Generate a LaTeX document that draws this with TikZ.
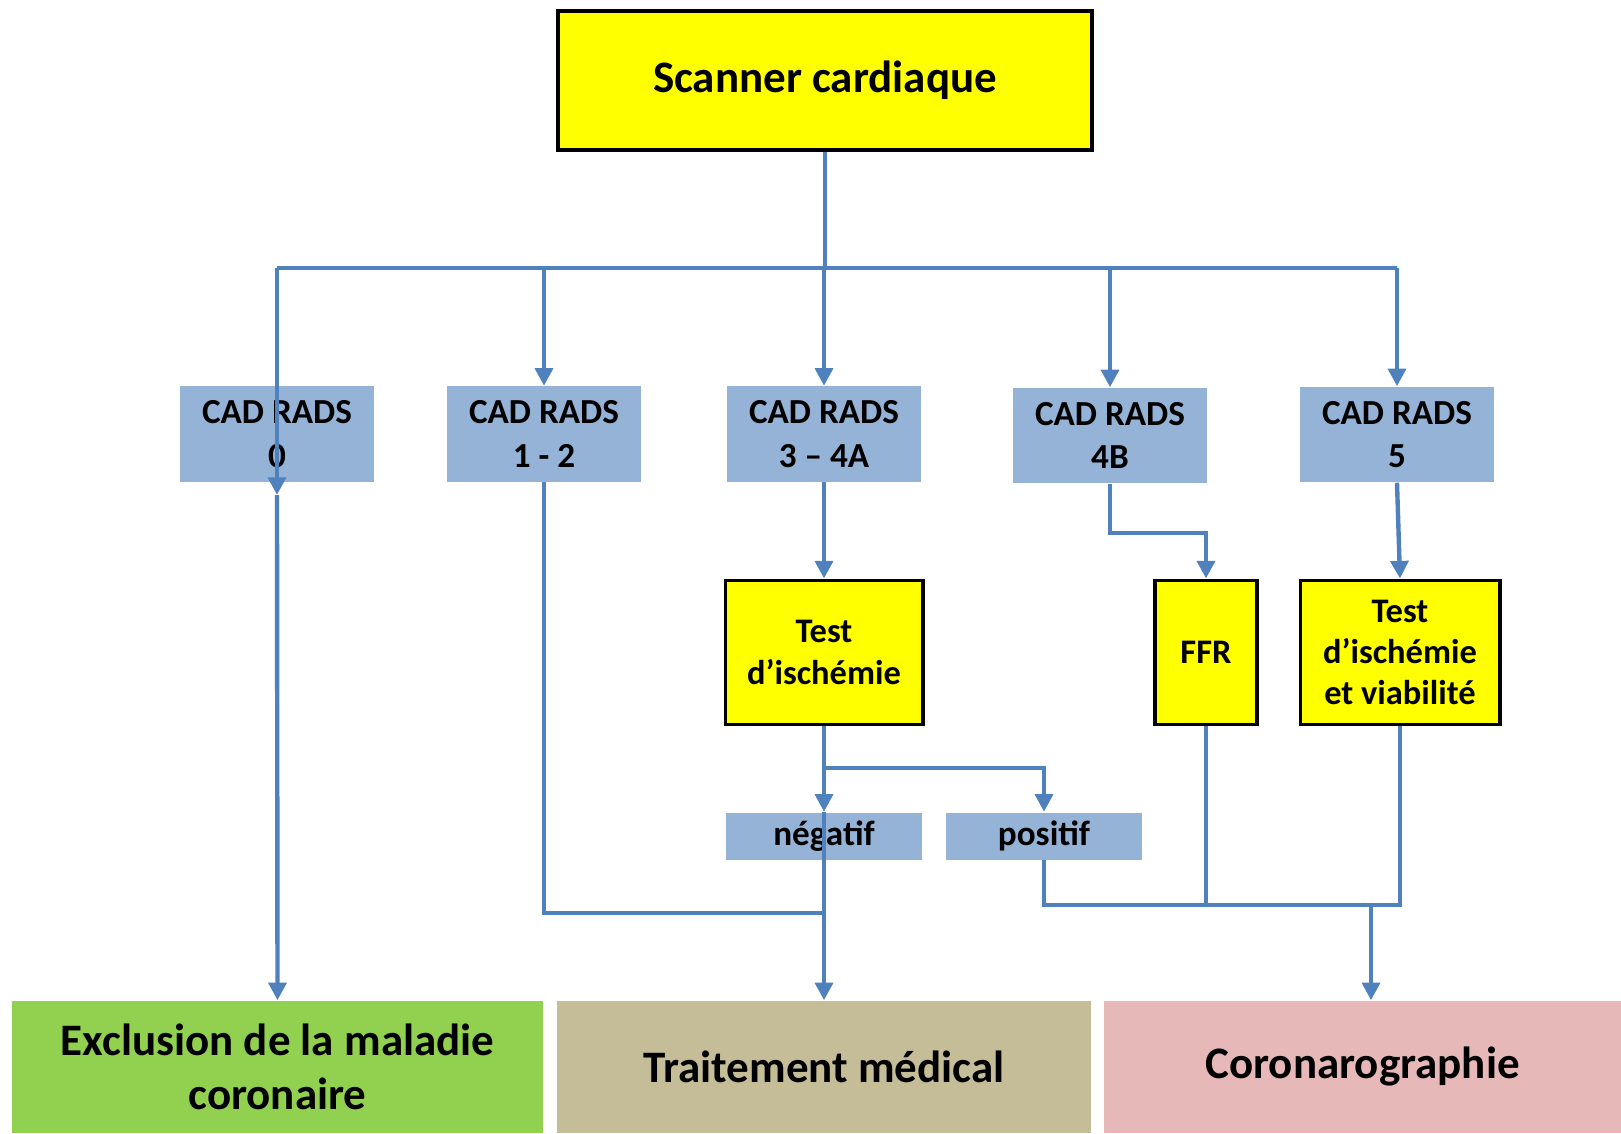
\documentclass[tikz,border=0pt]{standalone}
\usepackage{fontspec}
\setmainfont{Carlito}
\usetikzlibrary{arrows.meta}

\definecolor{linkblue}{RGB}{79,129,189}
\definecolor{radsblue}{RGB}{149,179,215}
\definecolor{examyellow}{RGB}{255,255,0}
\definecolor{exclgreen}{RGB}{146,208,80}
\definecolor{traittan}{RGB}{196,189,151}
\definecolor{coropink}{RGB}{230,185,184}

\begin{document}
\begin{tikzpicture}[x=0.01cm, y=-0.01cm]
    % Define styles
    \tikzset{
        exam/.style={
            draw=black,
            line width=1.1pt,
            fill=examyellow,
            align=center,
            font=\bfseries\fontsize{9.8}{11.7}\selectfont,
            inner sep=0pt
        },
        rads/.style={
            fill=radsblue,
            align=center,
            minimum width=1.94cm,
            minimum height=0.95cm,
            font=\bfseries\fontsize{10}{12.3}\selectfont,
            inner sep=0pt
        },
        result/.style={
            fill=radsblue,
            minimum width=1.95cm,
            minimum height=0.47cm,
            font=\bfseries\fontsize{10}{12}\selectfont,
            inner sep=0pt
        },
        outcome/.style={
            align=center,
            minimum height=1.32cm,
            font=\bfseries\fontsize{12.8}{15.5}\selectfont,
            inner sep=0pt
        },
        link/.style={
            linkblue,
            line width=1.25pt
        },
        arrow/.style={
            link,
            -{Triangle[length=5pt, width=5pt]}
        }
    }

    \useasboundingbox (0,0) rectangle (1621,1133);

    % Top examination
    \node[exam, minimum width=5.34cm, minimum height=1.39cm,
          font=\bfseries\fontsize{12.8}{15}\selectfont] (scanner) at (825,80.5) {Scanner cardiaque};

    % CAD RADS classes
    \node[rads] (cad0)   at (277,434)    {CAD RADS\\0};
    \node[rads] (cad12)  at (544,434)    {CAD RADS\\1 - 2};
    \node[rads] (cad34a) at (824,434)    {CAD RADS\\3 -- 4A};
    \node[rads] (cad4b)  at (1110,435.5) {CAD RADS\\4B};
    \node[rads] (cad5)   at (1397,434.5) {CAD RADS\\5};

    % Second-line tests
    \node[exam, minimum width=1.97cm, minimum height=1.44cm] (test) at (824,652.5) {Test\\d'ischémie};
    \node[exam, minimum width=1.02cm, minimum height=1.44cm] (ffr) at (1206,652.5) {FFR};
    \node[exam, minimum width=1.99cm, minimum height=1.44cm] (testviab) at (1400,652.5) {Test\\d'ischémie\\et viabilité};

    % Test results
    \node[result] (neg) at (824,836)  {négatif};
    \node[result] (pos) at (1044,836) {positif};

    % Outcomes
    \node[outcome, fill=exclgreen, minimum width=5.31cm] (excl) at (277.5,1067) {Exclusion de la maladie\\coronaire};
    \node[outcome, fill=traittan, minimum width=5.33cm] (trait) at (824,1067) {Traitement médical};
    \node[outcome, fill=coropink, minimum width=5.17cm] (coro) at (1362.5,1067) {Coronarographie};

    % Junction points
    \coordinate (bus) at (0,268);
    \coordinate (tip0) at (277,495);
    \coordinate (split) at (0,768);
    \coordinate (bend) at (0,533);
    \coordinate (medjoin) at (0,913);
    \coordinate (corojoin) at (1371,905);

    % Scanner to the classes
    \draw[link] (scanner.south) -- (scanner.south |- bus);
    \draw[link] (cad0 |- bus) -- (cad5 |- bus);
    \foreach \n in {cad12,cad34a,cad4b,cad5}
        \draw[arrow] (\n |- bus) -- (\n.north);
    \draw[arrow] (cad0 |- bus) -- (tip0);
    \draw[arrow] (tip0) -- (excl.north);

    % CAD RADS 1-2 and 3-4A
    \draw[link] (cad12.south) -- (cad12 |- medjoin) -- (trait |- medjoin);
    \draw[arrow] (cad34a.south) -- (test.north);
    \draw[arrow] (test.south) -- (neg.north);
    \draw[arrow] (test |- split) -| (pos.north);
    \draw[arrow] (neg.north) -- (trait.north);

    % CAD RADS 4B and 5
    \draw[arrow] (cad4b.south) -- (cad4b |- bend) -| (ffr.north);
    \draw[arrow] (cad5.south) -- (testviab.north);

    % To coronarography
    \draw[link] (pos.south) -- (pos |- corojoin) -- (testviab.south |- corojoin) -- (testviab.south);
    \draw[link] (ffr.south) -- (ffr |- corojoin);
    \draw[arrow] (corojoin) -- (corojoin |- coro.north);

\end{tikzpicture}
\end{document}
